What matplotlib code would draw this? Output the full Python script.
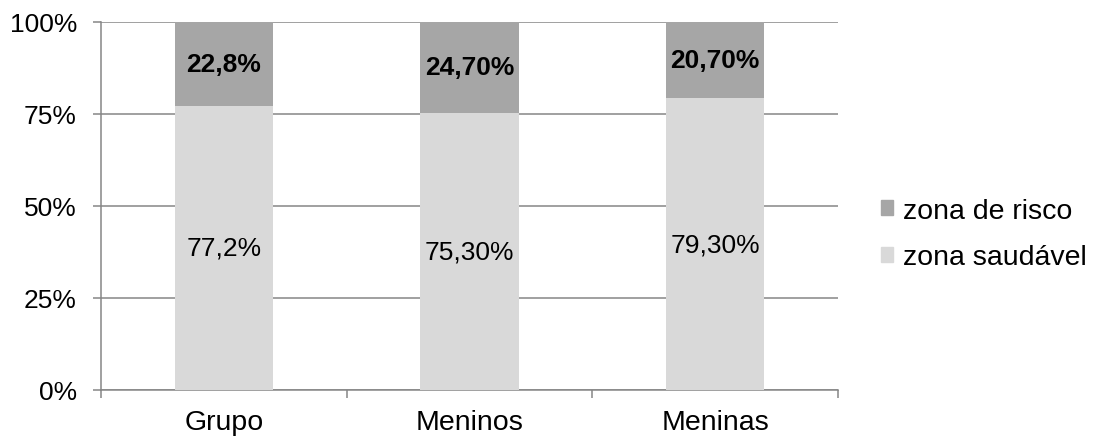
import matplotlib.pyplot as plt
import numpy as np
from matplotlib.patches import Patch

plt.rcParams['font.family'] = ['Liberation Sans', 'DejaVu Sans']

# valeurs
categorias = ['Grupo', 'Meninos', 'Meninas']
saudavel = [77.2, 75.3, 79.3]
risco = [22.8, 24.7, 20.7]
rot_saudavel = ['77,2%', '75,30%', '79,30%']
rot_risco = ['22,8%', '24,70%', '20,70%']
yticks = [0, 25, 50, 75, 100]

c_risco = '#a6a6a6'
c_saud = '#d9d9d9'
c_axe = '#868686'

fig = plt.figure(figsize=(10.97, 4.39), dpi=100)
ax = fig.add_axes([101/1097, 1 - 391/439, 737/1097, 368/439])

x = np.arange(len(categorias))
larg = 0.40
ax.bar(x, saudavel, larg, color=c_saud, zorder=3)
ax.bar(x, risco, larg, bottom=saudavel, color=c_risco, zorder=3)

for i in range(len(x)):
    ax.text(x[i], saudavel[i] / 2, rot_saudavel[i], ha='center', va='center',
            fontsize=19, zorder=4)
    ax.text(x[i], saudavel[i] + risco[i] / 2, rot_risco[i], ha='center', va='center',
            fontsize=19, fontweight='bold', zorder=4)

ax.set_xlim(-0.5, len(x) - 0.5)
ax.set_ylim(0, 100)
ax.set_yticks(yticks)
ax.set_yticklabels([f'{v}%' for v in yticks], fontsize=19)
ax.yaxis.grid(True, color=c_axe, linewidth=1.1, zorder=0)

# ticks do eixo x nas fronteiras das categorias
ax.set_xticks(np.arange(-0.5, len(x), 1.0))
ax.set_xticklabels([])
ax.set_xticks(x, minor=True)
ax.set_xticklabels(categorias, minor=True, fontsize=20.5)
ax.tick_params(axis='x', which='minor', length=0, pad=14)
ax.tick_params(axis='x', which='major', length=5.8, color=c_axe, width=1.1, direction='out')
ax.tick_params(axis='y', length=5.8, color=c_axe, width=1.1, pad=11.5)

for s in ['top', 'right']:
    ax.spines[s].set_visible(False)
for s in ['left', 'bottom']:
    ax.spines[s].set_color(c_axe)
    ax.spines[s].set_linewidth(1.1)

handles = [Patch(color=c_risco, label='zona de risco'),
           Patch(color=c_saud, label='zona saudável')]
fig.legend(handles=handles, loc='center left', bbox_to_anchor=(881/1097, 1 - 235/439),
           frameon=False, fontsize=20.5, handlelength=0.42, handleheight=0.42,
           handletextpad=0.35, labelspacing=0.73, borderpad=0, borderaxespad=0)

fig.savefig('out.png', dpi=100)
